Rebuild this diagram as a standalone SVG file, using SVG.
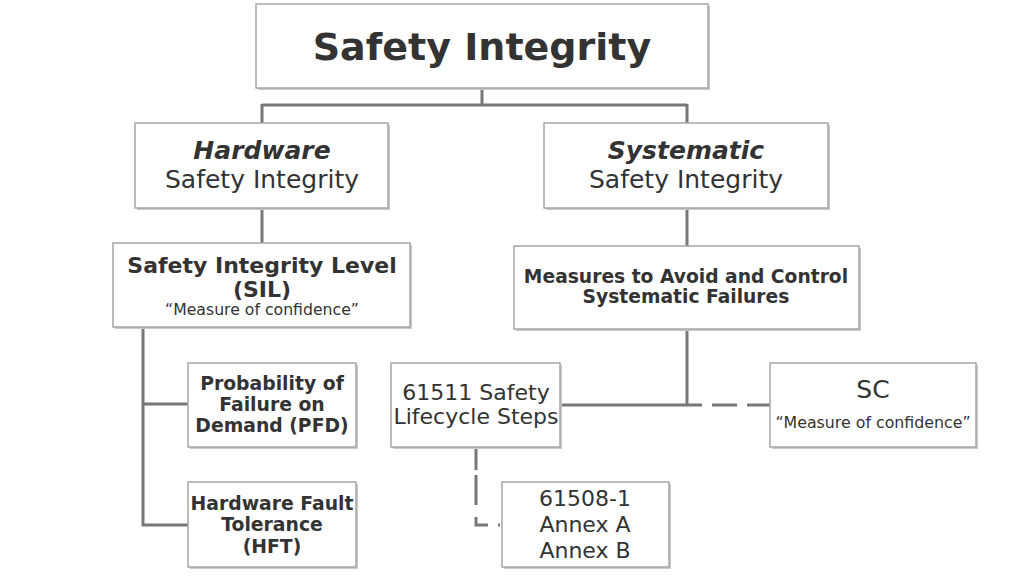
<svg xmlns="http://www.w3.org/2000/svg" width="1024" height="588" viewBox="0 0 1024 588">
<style>
.box{fill:#fff;stroke:#a6a6a6;stroke-width:1.5}
.sh{fill:#c8c8c8}
.t{font-family:"DejaVu Sans",Verdana,sans-serif;fill:#333;text-anchor:middle}
.b{font-weight:bold}
.ln{fill:none;stroke:#777;stroke-width:3}
.ds{fill:none;stroke:#777;stroke-width:3}
</style>
<rect width="1024" height="588" fill="#fff"/>
<g id="connectors">
<path class="ln" d="M482,88V105M262,105H687M262,104V123M687,104V123"/>
<path class="ln" d="M262,208V243"/>
<path class="ln" d="M687,208V246"/>
<path class="ln" d="M143,327V525H188M143,404H188"/>
<path class="ln" d="M687,329V405M560,405H687"/>
<path class="ds" d="M687,405H770" stroke-dasharray="15,10,25,10,25"/>
<path class="ds" d="M476,447V525H500" stroke-dasharray="23,5,30,12,20,10,2"/>
</g>
<g id="root"><rect class="sh" x="258" y="6" width="452" height="84"/><rect class="box" x="256" y="4" width="452" height="84"/>
<text class="t b" x="482" y="60" font-size="38">Safety Integrity</text></g>
<g id="hardware"><rect class="sh" x="137" y="125" width="253" height="85"/><rect class="box" x="135" y="123" width="253" height="85"/>
<text class="t b" x="262" y="159" font-size="25" font-style="italic">Hardware</text>
<text class="t" x="262" y="188" font-size="25">Safety Integrity</text></g>
<g id="systematic"><rect class="sh" x="546" y="125" width="284" height="85"/><rect class="box" x="544" y="123" width="284" height="85"/>
<text class="t b" x="686" y="159" font-size="25" font-style="italic">Systematic</text>
<text class="t" x="686" y="188" font-size="25">Safety Integrity</text></g>
<g id="sil"><rect class="sh" x="115" y="245" width="297" height="84"/><rect class="box" x="113" y="243" width="297" height="84"/>
<text class="t b" x="262" y="273" font-size="22">Safety Integrity Level</text>
<text class="t b" x="262" y="297" font-size="22">(SIL)</text>
<text class="t" x="262" y="315" font-size="15.7">“Measure of confidence”</text></g>
<g id="measures"><rect class="sh" x="516" y="248" width="345" height="83"/><rect class="box" x="514" y="246" width="345" height="83"/>
<text class="t b" x="686" y="283" font-size="18.7">Measures to Avoid and Control</text>
<text class="t b" x="686" y="303" font-size="18.7">Systematic Failures</text></g>
<g id="pfd"><rect class="sh" x="190" y="365" width="168" height="84"/><rect class="box" x="188" y="363" width="168" height="84"/>
<text class="t b" x="272" y="390" font-size="18.8">Probability of</text>
<text class="t b" x="272" y="411" font-size="18.8">Failure on</text>
<text class="t b" x="272" y="432" font-size="18.8">Demand (PFD)</text></g>
<g id="hft"><rect class="sh" x="190" y="484" width="168" height="85"/><rect class="box" x="188" y="482" width="168" height="85"/>
<text class="t b" x="272" y="510" font-size="18.8">Hardware Fault</text>
<text class="t b" x="272" y="531" font-size="18.8">Tolerance</text>
<text class="t b" x="272" y="553" font-size="18.8">(HFT)</text></g>
<g id="lifecycle"><rect class="sh" x="393" y="365" width="169" height="84"/><rect class="box" x="391" y="363" width="169" height="84"/>
<text class="t" x="476" y="400" font-size="22">61511 Safety</text>
<text class="t" x="476" y="424" font-size="22">Lifecycle Steps</text></g>
<g id="sc"><rect class="sh" x="772" y="365" width="206" height="84"/><rect class="box" x="770" y="363" width="206" height="84"/>
<text class="t" x="873" y="398" font-size="25">SC</text>
<text class="t" x="873" y="428" font-size="15.8">“Measure of confidence”</text></g>
<g id="annex"><rect class="sh" x="504" y="484" width="167" height="85"/><rect class="box" x="502" y="482" width="167" height="85"/>
<text class="t" x="585" y="506" font-size="22">61508-1</text>
<text class="t" x="585" y="532" font-size="22">Annex A</text>
<text class="t" x="585" y="558" font-size="22">Annex B</text></g>
</svg>
